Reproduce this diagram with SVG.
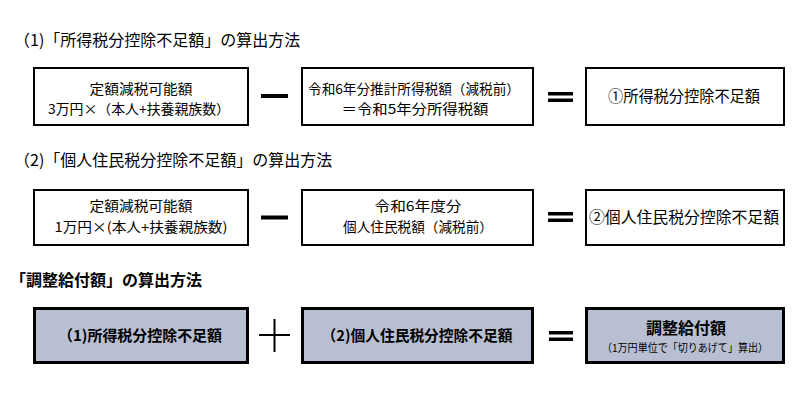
<svg xmlns="http://www.w3.org/2000/svg" width="800" height="401" viewBox="0 0 800 401">
<style>
.bg{fill:#fff}
.box{fill:#fff;stroke:#000;stroke-width:2}
.sum{fill:#b8bfd3;stroke:#000;stroke-width:3}
.t{font-family:"Noto Sans CJK JP","Noto Sans CJK SC",sans-serif;font-size:13.5px;fill:#000;text-anchor:middle}
.h{font-family:"Noto Sans CJK JP","Noto Sans CJK SC",sans-serif;font-size:16px;fill:#000}
.b{font-weight:bold}
.op{fill:#000}
.opl{stroke:#000;stroke-width:2;fill:none}
</style>
<rect class="bg" x="0" y="0" width="800" height="401"/>

<g id="title1"><text class="h" x="14" y="46">（1)「所得税分控除不足額」の算出方法</text></g>
<g id="title2"><text class="h" x="14" y="166">（2)「個人住民税分控除不足額」の算出方法</text></g>
<g id="title3"><text class="h b" x="10" y="286">「調整給付額」の算出方法</text></g>

<g id="r1a"><rect class="box" x="34" y="68" width="214" height="57"/>
<text class="t" x="141" y="94" textLength="103" lengthAdjust="spacingAndGlyphs">定額減税可能額</text>
<text class="t" x="139" y="114" textLength="182" lengthAdjust="spacingAndGlyphs">3万円×（本人+扶養親族数）</text></g>
<g id="r1b"><rect class="box" x="302" y="68" width="231" height="57"/>
<text class="t" x="414" y="94" textLength="212" lengthAdjust="spacingAndGlyphs">令和6年分推計所得税額（減税前）</text>
<text class="t" x="415" y="114" textLength="147" lengthAdjust="spacingAndGlyphs">＝令和5年分所得税額</text></g>
<g id="r1c"><rect class="box" x="586" y="68" width="198" height="57"/>
<text class="t" x="684" y="102" style="font-size:15.5px" textLength="152" lengthAdjust="spacingAndGlyphs">①所得税分控除不足額</text></g>

<g id="r2a"><rect class="box" x="34" y="190" width="214" height="55"/>
<text class="t" x="141" y="211" textLength="103" lengthAdjust="spacingAndGlyphs">定額減税可能額</text>
<text class="t" x="141" y="232" textLength="173" lengthAdjust="spacingAndGlyphs">1万円×(本人+扶養親族数)</text></g>
<g id="r2b"><rect class="box" x="302" y="190" width="231" height="55"/>
<text class="t" x="418" y="211" textLength="87" lengthAdjust="spacingAndGlyphs">令和6年度分</text>
<text class="t" x="418" y="232" textLength="150" lengthAdjust="spacingAndGlyphs">個人住民税額（減税前）</text></g>
<g id="r2c"><rect class="box" x="586" y="190" width="198" height="55"/>
<text class="t" x="684" y="223" style="font-size:15.5px" textLength="190" lengthAdjust="spacingAndGlyphs">②個人住民税分控除不足額</text></g>

<g id="r3a"><rect class="sum" x="34.5" y="308.5" width="213" height="54"/>
<text class="t b" x="140" y="341" style="font-size:15px" textLength="164" lengthAdjust="spacingAndGlyphs">（1)所得税分控除不足額</text></g>
<g id="r3b"><rect class="sum" x="302.5" y="308.5" width="230" height="54"/>
<text class="t b" x="417" y="341" style="font-size:15px" textLength="191" lengthAdjust="spacingAndGlyphs">（2)個人住民税分控除不足額</text></g>
<g id="r3c"><rect class="sum" x="586.5" y="308.5" width="197" height="54"/>
<text class="t b" x="686" y="334" style="font-size:16px">調整給付額</text>
<text class="t" x="685" y="352" style="font-size:11px" textLength="166" lengthAdjust="spacingAndGlyphs">（1万円単位で「切りあげて」算出）</text></g>

<g id="operators">
<rect class="op" x="261" y="94" width="27" height="4"/>
<rect class="op" x="548" y="92" width="25" height="3.5"/>
<rect class="op" x="548" y="98.5" width="25" height="3.5"/>
<rect class="op" x="261" y="215.5" width="27" height="4"/>
<rect class="op" x="548" y="212" width="25" height="3.5"/>
<rect class="op" x="548" y="218.5" width="25" height="3.5"/>
<path class="opl" d="M259 335H290M274.5 319V352"/>
<rect class="op" x="549" y="331" width="24" height="3.5"/>
<rect class="op" x="549" y="337.5" width="24" height="3.5"/>
</g>
</svg>
